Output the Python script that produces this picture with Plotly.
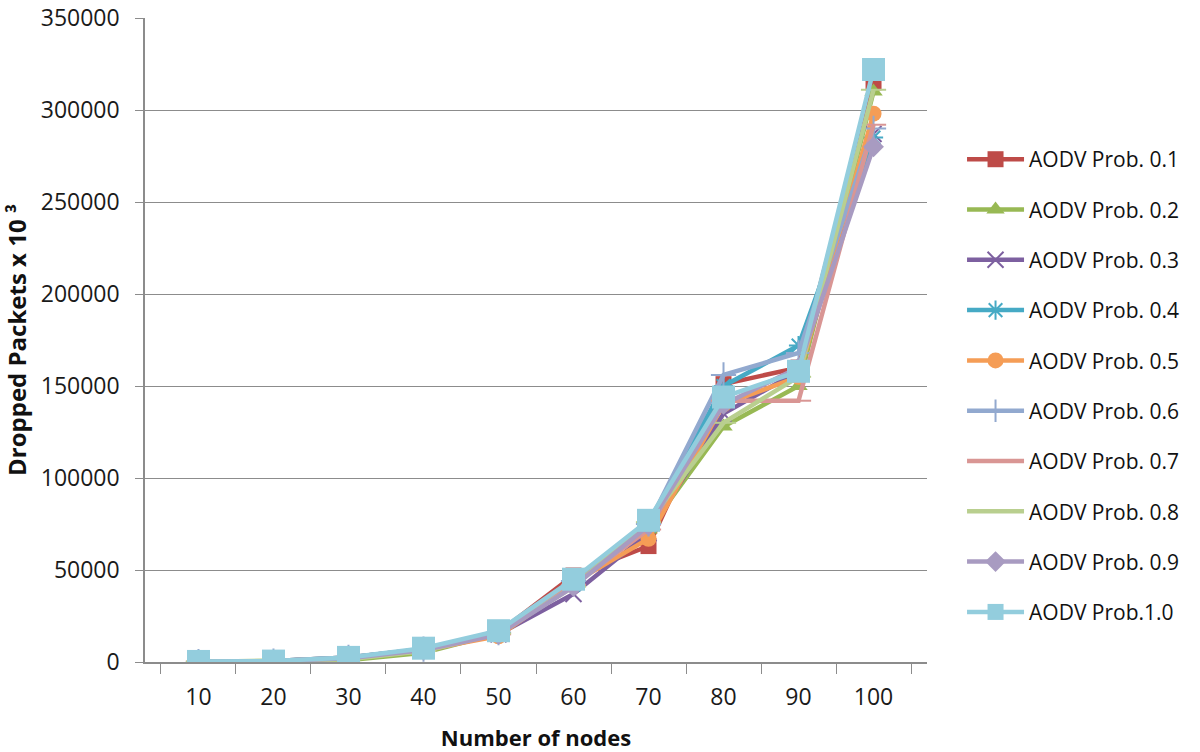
import plotly.graph_objects as go

nodes = ["10", "20", "30", "40", "50", "60", "70", "80", "90", "100"]
series_names = ["AODV Prob. 0.1", "AODV Prob. 0.2", "AODV Prob. 0.3", "AODV Prob. 0.4",
                "AODV Prob. 0.5", "AODV Prob. 0.6", "AODV Prob. 0.7", "AODV Prob. 0.8",
                "AODV Prob. 0.9", "AODV Prob.1.0"]
p01 = [200, 500, 2500, 7000, 16000, 47000, 63000, 151000, 160000, 315000]
p02 = [200, 400, 1000, 5000, 15500, 44000, 72000, 128000, 150000, 310000]
p03 = [200, 500, 2000, 6500, 15000, 37000, 70000, 135000, 158000, 287000]
p04 = [200, 500, 2500, 7000, 16000, 42000, 74000, 150000, 172000, 285000]
p05 = [200, 500, 2000, 6500, 14000, 43000, 67000, 140000, 155000, 298000]
p06 = [200, 500, 2500, 7000, 16000, 44000, 75000, 156000, 168000, 290000]
p07 = [200, 500, 2000, 6000, 15000, 42000, 72000, 142000, 142000, 292000]
p08 = [200, 500, 1500, 6000, 15500, 41000, 76000, 130000, 155000, 311000]
p09 = [200, 500, 2000, 6500, 15000, 41000, 74000, 140000, 160000, 280000]
p10 = [300, 500, 2500, 7500, 17000, 45000, 77000, 144000, 158000, 322000]
values = [p01, p02, p03, p04, p05, p06, p07, p08, p09, p10]

colors = ["#BE4B48", "#98B954", "#7D60A0", "#46AAC5", "#F59D56",
          "#92A9CF", "#D99694", "#B9CF8F", "#A89BC1", "#93CDDD"]
symbols = ["square", "triangle-up", "x-thin", "asterisk", "circle",
           "cross-thin", "line-ew", "line-ew", "diamond", "square"]
sizes = [16, 16, 16, 16, 16, 18, 18, 18, 16, 23]

fig = go.Figure()
for i, (name, vals) in enumerate(zip(series_names, values)):
    open_sym = symbols[i] in ("x-thin", "asterisk", "cross-thin", "line-ew")
    fig.add_trace(go.Scatter(
        x=nodes, y=vals, name=name, mode="lines+markers",
        legendgroup=f"g{i}",
        line=dict(color=colors[i], width=4.5),
        marker=dict(symbol=symbols[i], size=sizes[i], color=colors[i],
                    line=dict(color=colors[i], width=2 if open_sym else 0)),
    ))

xtitle_font = dict(size=22, family="Open Sans, Liberation Sans, sans-serif", color="#111111")
ytitle_font = dict(size=24, family="Open Sans, Liberation Sans, sans-serif", color="#111111")

fig.update_layout(
    width=1200, height=752,
    paper_bgcolor="white", plot_bgcolor="white",
    margin=dict(l=145, r=273, t=18, b=90),
    font=dict(family="Open Sans, Liberation Sans, sans-serif", size=23, color="#1a1a1a"),
    legend=dict(x=1.0448, y=0.812, xanchor="left", yanchor="top",
                font=dict(size=21, color="#111111"), tracegroupgap=20,
                itemwidth=57, bgcolor="rgba(0,0,0,0)"),
    showlegend=True,
)
fig.update_xaxes(
    type="category", tickson="boundaries", ticks="outside", ticklen=10,
    tickcolor="#8C8C8C", showline=True, linecolor="#8C8C8C", linewidth=1.5,
    showgrid=False, tickfont=dict(size=23), automargin=False,
    ticklabelstandoff=14,
    title=dict(text="<b>Number of nodes</b>", font=xtitle_font, standoff=20),
)
fig.update_yaxes(
    range=[0, 350000], dtick=50000, tickformat="d",
    ticks="outside", ticklen=8, tickcolor="#8C8C8C",
    showline=True, linecolor="#8C8C8C", linewidth=1.5,
    showgrid=True, gridcolor="#8C8C8C", gridwidth=1.2,
    zeroline=False, tickfont=dict(size=23), automargin=False,
    ticklabelstandoff=11, ticklabeloverflow="allow",
    title=dict(text="<b>Dropped Packets x 10 ³</b>", font=ytitle_font, standoff=18),
)

fig.write_html("out.html", config={"displayModeBar": False},
               post_script="document.body.style.margin='0px';")
